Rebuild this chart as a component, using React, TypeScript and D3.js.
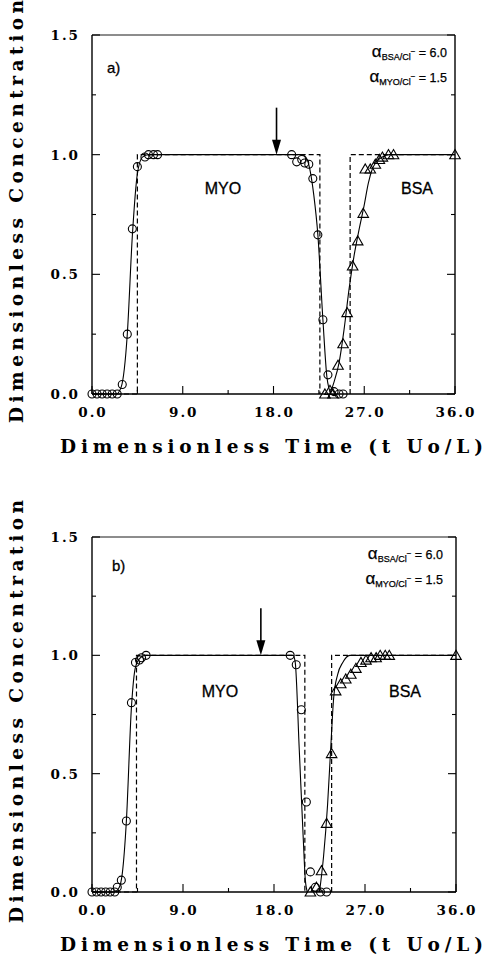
import React from 'react';
import * as d3 from 'd3';

// ---------- axis ticks ----------
const timeTicks = [0, 9, 18, 27, 36];
const timeTickLabels = ['0.0', '9.0', '18.0', '27.0', '36.0'];
const timeMinorTicks = [4.5, 13.5, 22.5, 31.5];
const concTicks = [0, 0.5, 1.0, 1.5];
const concTickLabels = ['0.0', '0.5', '1.0', '1.5'];
const concMinorTicks = [0.25, 0.75, 1.25];

// ---------- panel a ----------
const aMyoT = [0, 0.5, 1, 1.5, 2, 2.5, 3.0, 3.5, 4.0, 4.5, 5.25, 5.6, 6.1, 6.5, 19.8, 20.3, 20.8, 21.1, 21.5, 21.9, 22.4, 22.9, 23.4, 24.0, 24.5, 24.9];
const aMyoC = [0, 0, 0, 0, 0, 0, 0.04, 0.25, 0.69, 0.95, 0.99, 1.0, 1.0, 1.0, 1.0, 0.97, 0.98, 0.965, 0.96, 0.9, 0.665, 0.31, 0.08, 0.01, 0.0, 0.0];
const aBsaT = [23.1, 23.6, 23.9, 24.4, 24.9, 25.3, 25.85, 26.35, 26.9, 27.1, 27.6, 28.1, 28.5, 28.8, 29.4, 29.9, 36];
const aBsaC = [0, 0.015, 0, 0.12, 0.21, 0.34, 0.535, 0.64, 0.755, 0.94, 0.94, 0.96, 0.98, 0.99, 1.0, 1.0, 1.0];
const aMyoModelT = [0, 2.4, 2.9, 3.5, 4.0, 4.5, 5.0, 5.6, 20.8, 21.2, 21.6, 22.0, 22.4, 22.9, 23.3, 23.7];
const aMyoModelC = [0, 0, 0.03, 0.25, 0.66, 0.92, 0.99, 1.0, 1.0, 0.99, 0.94, 0.83, 0.665, 0.31, 0.07, 0];
const aBsaModelT = [23.6, 24.0, 24.5, 25.0, 25.5, 26.0, 26.5, 27.0, 27.4, 27.8, 28.2, 28.8, 29.5, 36];
const aBsaModelC = [0, 0.05, 0.13, 0.27, 0.44, 0.58, 0.69, 0.79, 0.88, 0.94, 0.97, 0.99, 1.0, 1.0];
const aStepMyoT = [0, 4.5, 4.5, 22.6, 22.6];
const aStepMyoC = [0, 0, 1, 1, 0];
const aStepBsaT = [25.6, 25.6, 36];
const aStepBsaC = [0, 1, 1];
const aArrowT = 18.3;

// ---------- panel b ----------
const bMyoT = [0, 0.45, 0.9, 1.35, 1.8, 2.25, 2.5, 2.9, 3.4, 3.9, 4.3, 4.7, 4.9, 5.35, 19.6, 20.2, 20.7, 21.2, 21.6, 22.1, 22.6, 23.2];
const bMyoC = [0, 0, 0, 0, 0, 0, 0.02, 0.05, 0.3, 0.8, 0.97, 0.98, 0.99, 1.0, 1.0, 0.96, 0.77, 0.38, 0.085, 0.02, 0, 0];
const bBsaT = [21.6, 22.2, 22.7, 23.2, 23.7, 24.1, 24.6, 25.1, 25.6, 26.1, 26.6, 27.1, 27.6, 28.1, 28.5, 29.0, 29.4, 36];
const bBsaC = [0, 0.02, 0.09, 0.29, 0.585, 0.85, 0.88, 0.9, 0.92, 0.945, 0.97, 0.98, 0.99, 0.99, 1.0, 1.0, 1.0, 1.0];
const bMyoModelT = [0, 2.2, 2.7, 3.0, 3.4, 3.9, 4.3, 4.8, 5.3, 19.9, 20.1, 20.5, 20.9, 21.1, 21.3];
const bMyoModelC = [0, 0, 0.02, 0.08, 0.3, 0.78, 0.95, 0.99, 1.0, 1.0, 0.97, 0.6, 0.22, 0.05, 0];
const bBsaModelT = [22.5, 22.9, 23.3, 23.6, 23.9, 24.3, 24.8, 25.5, 36];
const bBsaModelC = [0, 0.15, 0.37, 0.6, 0.82, 0.92, 0.97, 1.0, 1.0];
const bStepMyoT = [0, 4.4, 4.4, 21.05, 21.05];
const bStepMyoC = [0, 0, 1, 1, 0];
const bStepBsaT = [23.7, 23.7, 36];
const bStepBsaC = [0, 1, 1];
const bArrowT = 16.7;

const zip = (t: number[], c: number[]) => t.map((v, i) => [v, c[i]] as [number, number]);

const SERIF = '"DejaVu Serif", "Liberation Serif", serif';
const SANS = '"Liberation Sans", Arial, sans-serif';

type PanelProps = {
  top: number; bottom: number; right: number; label: string; labelX: number; labelY: number;
  alphaY1: number; alphaRight: number; wordY: number; myoX: number; bsaX: number;
  myoT: number[]; myoC: number[]; bsaT: number[]; bsaC: number[];
  myoModelT: number[]; myoModelC: number[]; bsaModelT: number[]; bsaModelC: number[];
  stepMyoT: number[]; stepMyoC: number[]; stepBsaT: number[]; stepBsaC: number[];
  arrowT: number;
};

function Panel(p: PanelProps) {
  const x = d3.scaleLinear().domain([0, 36]).range([92, p.right]);
  const y = d3.scaleLinear().domain([0, 1.5]).range([p.bottom, p.top]);
  const line = d3.line<[number, number]>().x(d => x(d[0])).y(d => y(d[1]));
  const smooth = d3.line<[number, number]>().x(d => x(d[0])).y(d => y(d[1])).curve(d3.curveMonotoneX);
  const tri = d3.symbol(d3.symbolTriangle, 48)();
  const x0 = x(0), x1 = x(36), y0 = y(0), y1 = y(1.5);
  const ax = x(p.arrowT), ay = y(1);
  const ls = 2.0;
  return (
    <g>
      {/* frame */}
      <line x1={x0} x2={x1} y1={y0} y2={y0} stroke="#000" strokeWidth={1.4} />
      <line x1={x0} x2={x0} y1={y0} y2={y1} stroke="#000" strokeWidth={1.4} />
      <line x1={x1} x2={x1} y1={y0} y2={y1} stroke="#000" strokeWidth={1.4} />
      <line x1={x0} x2={x1} y1={y1} y2={y1} stroke="#000" strokeWidth={0.9} />
      {/* x ticks */}
      {timeTicks.map((t, i) => (
        <g key={'xt' + i}>
          <line x1={x(t)} x2={x(t)} y1={y0} y2={y0 - 8} stroke="#000" strokeWidth={1.1} />
          <text x={x(t) + ls / 2} y={y0 + 23} textAnchor="middle" fontFamily={SERIF} fontWeight="bold" fontSize={13.5} letterSpacing={ls}>{timeTickLabels[i]}</text>
        </g>
      ))}
      {timeMinorTicks.map((t, i) => (
        <line key={'xm' + i} x1={x(t)} x2={x(t)} y1={y0} y2={y0 - 4} stroke="#000" strokeWidth={1.1} />
      ))}
      {/* y ticks */}
      {concTicks.map((c, i) => (
        <g key={'yt' + i}>
          <line x1={x0} x2={x0 + 8} y1={y(c)} y2={y(c)} stroke="#000" strokeWidth={1.1} />
          <line x1={x1} x2={x1 - 8} y1={y(c)} y2={y(c)} stroke="#000" strokeWidth={1.1} />
          <text x={78 + ls} y={y(c) + 5} textAnchor="end" fontFamily={SERIF} fontWeight="bold" fontSize={13.5} letterSpacing={ls}>{concTickLabels[i]}</text>
        </g>
      ))}
      {concMinorTicks.map((c, i) => (
        <g key={'ym' + i}>
          <line x1={x0} x2={x0 + 4} y1={y(c)} y2={y(c)} stroke="#000" strokeWidth={1.1} />
          <line x1={x1} x2={x1 - 4} y1={y(c)} y2={y(c)} stroke="#000" strokeWidth={1.1} />
        </g>
      ))}
      {/* ideal steps (dashed) */}
      <path d={line(zip(p.stepMyoT, p.stepMyoC)) || ''} fill="none" stroke="#000" strokeWidth={1.2} strokeDasharray="5,3" />
      <path d={line(zip(p.stepBsaT, p.stepBsaC)) || ''} fill="none" stroke="#000" strokeWidth={1.2} strokeDasharray="5,3" />
      {/* model curves */}
      <path d={smooth(zip(p.myoModelT, p.myoModelC)) || ''} fill="none" stroke="#000" strokeWidth={1.1} />
      <path d={smooth(zip(p.bsaModelT, p.bsaModelC)) || ''} fill="none" stroke="#000" strokeWidth={1.1} />
      {/* data */}
      {p.myoT.map((t, i) => (
        <circle key={'c' + i} cx={x(t)} cy={y(p.myoC[i])} r={4} fill="none" stroke="#000" strokeWidth={1.1} />
      ))}
      {p.bsaT.map((t, i) => (
        <path key={'t' + i} d={tri || ''} transform={`translate(${x(t)},${y(p.bsaC[i]) + 1})`} fill="none" stroke="#000" strokeWidth={1.1} />
      ))}
      {/* arrow */}
      <line x1={ax} x2={ax} y1={ay - 47} y2={ay - 12} stroke="#000" strokeWidth={1.6} />
      <path d={`M${ax - 4.5},${ay - 15}L${ax + 4.5},${ay - 15}L${ax},${ay}Z`} fill="#000" />
      {/* annotations */}
      <text x={p.labelX} y={p.labelY} fontFamily={SANS} fontSize={15} stroke="#000" strokeWidth={0.3}>{p.label}</text>
      <text x={p.myoX} y={p.wordY} textAnchor="middle" fontFamily={SANS} fontSize={16} stroke="#000" strokeWidth={0.3}>MYO</text>
      <text x={p.bsaX} y={p.wordY} textAnchor="middle" fontFamily={SANS} fontSize={16} stroke="#000" strokeWidth={0.3}>BSA</text>
      <text x={p.alphaRight} y={p.alphaY1} textAnchor="end" fontFamily={SANS} fontSize={12.5} stroke="#000" strokeWidth={0.25}>
        <tspan fontSize={17}>α</tspan><tspan fontSize={9} dy={3}>BSA/Cl</tspan><tspan fontSize={8} dy={-6}>−</tspan><tspan dy={3}> = 6.0</tspan>
      </text>
      <text x={p.alphaRight} y={p.alphaY1 + 25} textAnchor="end" fontFamily={SANS} fontSize={12.5} stroke="#000" strokeWidth={0.25}>
        <tspan fontSize={17}>α</tspan><tspan fontSize={9} dy={3}>MYO/Cl</tspan><tspan fontSize={8} dy={-6}>−</tspan><tspan dy={3}> = 1.5</tspan>
      </text>
      {/* axis titles */}
      <text x={271.5} y={p.bottom + 59} textAnchor="middle" fontFamily={SERIF} fontWeight="bold" fontSize={18.5} textLength={423} lengthAdjust="spacing">Dimensionless Time (t Uo/L)</text>
      <text transform={`translate(23,${(p.bottom + p.top) / 2 - 3}) rotate(-90)`} textAnchor="middle" fontFamily={SERIF} fontWeight="bold" fontSize={18.5} textLength={423} lengthAdjust="spacing">Dimensionless Concentration</text>
    </g>
  );
}

export default function App() {
  return (
    <div style={{ position: 'absolute', left: 0, top: 0 }}>
      <svg width={488} height={961} style={{ display: 'block', background: '#fff' }}>
        <Panel top={35} bottom={394} right={455} label="a)" labelX={107} labelY={73}
          alphaY1={57} alphaRight={447} wordY={194} myoX={223} bsaX={417}
          myoT={aMyoT} myoC={aMyoC} bsaT={aBsaT} bsaC={aBsaC}
          myoModelT={aMyoModelT} myoModelC={aMyoModelC} bsaModelT={aBsaModelT} bsaModelC={aBsaModelC}
          stepMyoT={aStepMyoT} stepMyoC={aStepMyoC} stepBsaT={aStepBsaT} stepBsaC={aStepBsaC}
          arrowT={aArrowT} />
        <Panel top={537} bottom={892} right={456} label="b)" labelX={112} labelY={571}
          alphaY1={559} alphaRight={443} wordY={697} myoX={220} bsaX={405}
          myoT={bMyoT} myoC={bMyoC} bsaT={bBsaT} bsaC={bBsaC}
          myoModelT={bMyoModelT} myoModelC={bMyoModelC} bsaModelT={bBsaModelT} bsaModelC={bBsaModelC}
          stepMyoT={bStepMyoT} stepMyoC={bStepMyoC} stepBsaT={bStepBsaT} stepBsaC={bStepBsaC}
          arrowT={bArrowT} />
      </svg>
    </div>
  );
}
